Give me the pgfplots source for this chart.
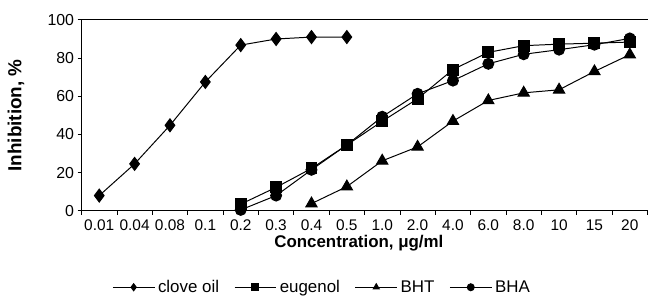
\documentclass[border=0pt]{standalone}
\usepackage{fontspec}
\setmainfont{Liberation Sans}
\usepackage{pgfplots}
\pgfplotsset{compat=1.18}
\begin{document}
\begin{tikzpicture}
\begin{axis}[
  scale only axis, width=569pt, height=192pt,
  xmin=-0.5, xmax=15.5, ymin=0, ymax=100,
  axis x line=box, axis y line=left,
  axis line style={black, line width=1pt, -},
  xtick={-0.5,0.5,...,15.5},
  x tick label as interval,
  xticklabels={0.01,0.04,0.08,0.1,0.2,0.3,0.4,0.5,1.0,2.0,4.0,6.0,8.0,10,15,20},
  ytick={0,20,...,100},
  xtick pos=bottom, ytick pos=left,
  tick align=outside, major tick length=4pt,
  tick style={black, line width=0.8pt},
  /pgf/number format/assume math mode=true,
  xticklabel style={font=\fontsize{15.5}{17}\selectfont, yshift=-1pt, text height=11pt, text depth=2pt},
  yticklabel style={font=\fontsize{16}{18}\selectfont},
  xlabel={\textbf{Concentration, μg/ml}},
  ylabel={\textbf{Inhibition, \%}},
  xlabel style={font=\fontsize{17}{19}\selectfont, at={(axis description cs:0.49,-0.17)}, anchor=center},
  ylabel style={font=\fontsize{19}{21}\selectfont, at={(axis description cs:-0.095,0.5)}, anchor=south},
  every axis plot/.append style={black, line width=1pt},
  legend columns=4,
  legend style={draw=none, fill=none, at={(0.425,-0.40)}, anchor=center, font=\fontsize{17}{19}\selectfont,
    inner sep=0pt,
    /tikz/every odd column/.append style={column sep=1pt},
    /tikz/every even column/.append style={column sep=13pt}},
  legend image code/.code={
    \draw[#1, mark size=3.5pt, mark repeat=2, mark phase=2] plot coordinates {(0pt,0pt) (21pt,0pt) (42pt,0pt)};
  },
]
\addplot[mark=diamond*, mark size=6.5pt] coordinates {
(0,8) (1,24.6) (2,44.8) (3,67.5) (4,86.8) (5,90) (6,91) (7,91)};
\addlegendentry{clove oil}
\addplot[mark=square*, mark size=5.5pt] coordinates {
(4,3.5) (5,12.3) (6,22.2) (7,34.5) (8,46.9) (9,58.7) (10,74) (11,83) (12,86.5) (13,87.3) (14,87.8) (15,88.4)};
\addlegendentry{eugenol}
\addplot[mark=triangle*, mark size=6.5pt] coordinates {
(6,3.8) (7,12.7) (8,26.2) (9,33.5) (10,47) (11,57.8) (12,61.8) (13,63.4) (14,73) (15,81.8)};
\addlegendentry{BHT}
\addplot[mark=*, mark size=5.5pt] coordinates {
(4,0.5) (5,8) (6,21.5) (7,34.5) (8,49.3) (9,61.3) (10,68.2) (11,77) (12,82) (13,84.4) (14,87) (15,90.3)};
\addlegendentry{BHA}
\end{axis}
\path (-82pt,-93pt) rectangle (566pt,212pt);
\end{tikzpicture}
\end{document}
